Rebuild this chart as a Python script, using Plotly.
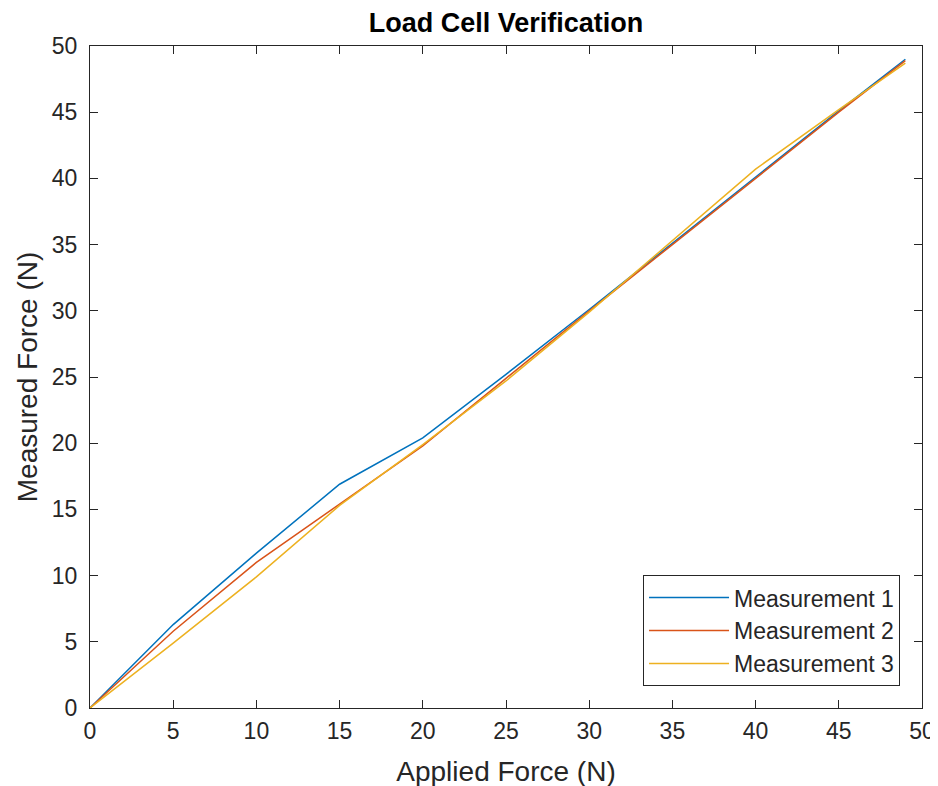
import plotly.graph_objects as go

applied = [0, 5, 10, 15, 20, 25, 30, 35, 40, 45, 49]
meas1 = [0, 6.3, 11.7, 16.9, 20.4, 25.2, 30.1, 35.1, 40.1, 45.1, 49.0]
meas2 = [0, 5.8, 11.0, 15.4, 19.8, 24.9, 30.0, 35.0, 40.0, 45.0, 48.9]
meas3 = [0, 4.9, 9.9, 15.3, 19.9, 24.7, 29.9, 35.3, 40.7, 45.2, 48.7]
names = ["Measurement 1", "Measurement 2", "Measurement 3"]
colors = ["#0072BD", "#D95319", "#EDB120"]
ticks = list(range(0, 51, 5))

FONT = "Liberation Sans, Arial, Helvetica"

fig = go.Figure()
for name, ys, c in zip(names, [meas1, meas2, meas3], colors):
    fig.add_trace(go.Scatter(x=applied, y=ys, mode="lines", name=name,
                             line=dict(color=c, width=1.5)))

axis_common = dict(range=[0, 50], tickvals=ticks, showgrid=False, zeroline=False,
                   showline=True, linecolor="#262626", linewidth=1, mirror="ticks",
                   ticks="inside", ticklen=8, tickcolor="#262626",
                   tickfont=dict(family=FONT, size=23, color="#262626"))

fig.update_layout(
    width=938, height=786,
    paper_bgcolor="white", plot_bgcolor="white",
    margin=dict(l=82, r=24, t=38, b=86),
    title=dict(text="<b>Load Cell Verification</b>", x=0.5, xref="paper", xanchor="center",
               y=0.982, yref="container", yanchor="middle",
               font=dict(family=FONT, size=27, color="black")),
    xaxis=dict(**axis_common, ticklabelstandoff=2,
               title=dict(text="Applied Force (N)", standoff=18,
                          font=dict(family=FONT, size=28, color="#262626"))),
    yaxis=dict(**axis_common, ticklabelstandoff=7,
               title=dict(text="Measured Force (N)", standoff=6,
                          font=dict(family=FONT, size=28, color="#262626"))),
    legend=dict(x=0.9736, y=0.033, xanchor="right", yanchor="bottom",
                bgcolor="white", bordercolor="#262626", borderwidth=1,
                font=dict(family=FONT, size=23, color="#262626"),
                tracegroupgap=0, itemwidth=80),
    showlegend=True,
)

fig.write_html("out.html")
